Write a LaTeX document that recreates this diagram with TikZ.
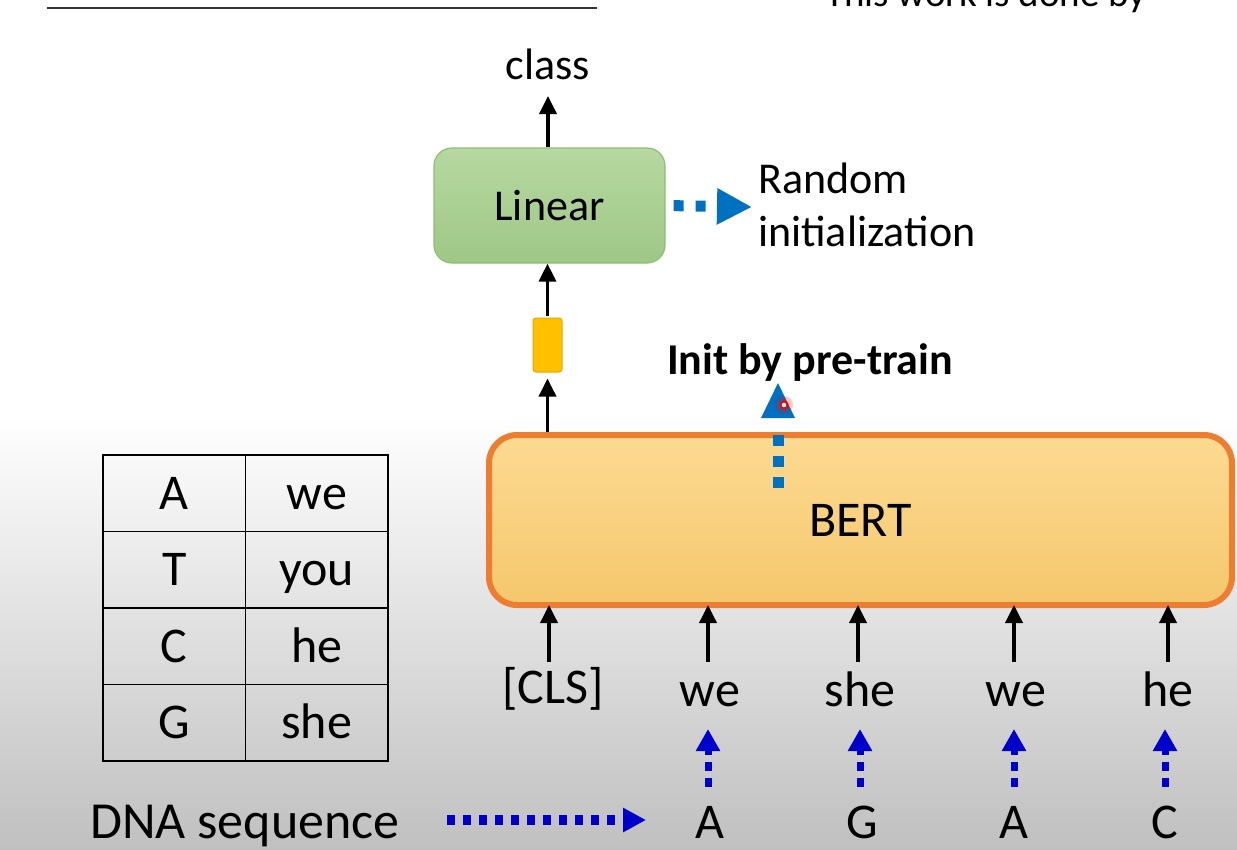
\documentclass[tikz,border=0pt]{standalone}
\usepackage{fontspec}
\setmainfont{Carlito}
\usetikzlibrary{arrows.meta}
\definecolor{bertedge}{RGB}{237,125,49}
\definecolor{berttop}{RGB}{253,218,146}
\definecolor{bertbot}{RGB}{244,199,108}
\definecolor{lintop}{RGB}{182,216,161}
\definecolor{linbot}{RGB}{158,200,134}
\definecolor{linedge}{RGB}{140,190,115}
\definecolor{gold}{RGB}{255,192,0}
\definecolor{goldedge}{RGB}{232,168,0}
\definecolor{pptblue}{RGB}{0,112,192}
\definecolor{dkblue}{RGB}{0,0,204}
\definecolor{bggray}{RGB}{192,192,192}
\newcommand\fbig{\fontsize{50}{60}\selectfont}
\newcommand\fdna{\fontsize{52}{60}\selectfont}
\newcommand\fmid{\fontsize{44}{52}\selectfont}
\begin{document}
\begin{tikzpicture}[x=1pt,y=-1pt,
  blk/.style={line width=3.6pt, -{Triangle[length=18pt 0 0,width=17pt 0 0]}},
  cell/.style={draw, line width=1.8pt, minimum width=142.5pt, minimum height=76.5pt,
    inner sep=0pt, text height=36pt, text depth=4pt, font=\fbig},
  tok/.style={anchor=base, font=\fbig, inner sep=0pt},
  lbl/.style={anchor=base, font=\fmid, inner sep=0pt},
  linbox/.style={rounded corners=18pt, minimum width=231pt, minimum height=115pt,
    top color=lintop, bottom color=linbot, draw=linedge, line width=1.2pt, font=\fmid},
  bertbox/.style={rounded corners=28pt, minimum width=743pt, minimum height=170pt,
    top color=berttop, bottom color=bertbot, draw=bertedge, line width=6pt, font=\fbig},
  vecbox/.style={rounded corners=3pt, minimum width=29pt, minimum height=54pt,
    fill=gold, draw=goldedge, line width=1pt, inner sep=0pt},
  bigdots/.style={pptblue, line width=11pt, dash pattern=on 10pt off 12pt},
  smalldots/.style={dkblue, line width=7pt, dash pattern=on 9pt off 7pt,
    -{Triangle[length=22pt 0 0,width=23pt 0 0]}},
  hdots/.style={dkblue, line width=10pt, dash pattern=on 8pt off 8pt,
    -{Triangle[length=23pt 0 0,width=23pt 0 0]}}
]
\useasboundingbox (0,0) rectangle (1237,849);
% background
\fill[white] (0,0) rectangle (1237,849);
\shade[top color=white, bottom color=bggray] (0,415) rectangle (1237,849);

% top remnants
\coordinate (tl0) at (47,8);
\coordinate (tl1) at (597,8);
\draw[black!80, line width=1.8pt] (tl0) -- (tl1);
\node[anchor=base west, inner sep=0pt, font=\fontsize{39}{45}\selectfont] (credit) at (825,6) {This work is done by};

% Linear / class
\node[linbox] (lin) at (549.5,205.5) {Linear};
\node[lbl] (cls) at (548,79) {class};
\coordinate (clsarr) at (548,96);
\draw[blk] (clsarr |- lin.north) -- (clsarr);

% random init
\node[lbl, anchor=base west] (rand1) at (758,193) {Random};
\node[lbl, anchor=base west] (rand2) at (758,246) {initialization};
\coordinate (rtip) at (752,207);
\draw[bigdots, shorten <=8pt, -{Triangle[length=35pt 0 0,width=34pt 0 0]}] (lin.east) -- (rtip);

% vector
\node[vecbox] (vec) at (547.5,345) {};
\draw[blk, shorten <=2pt] (vec.north) -- (vec.north |- lin.south);

% BERT
\node[bertbox] (bert) at (860.5,520) {BERT};
\draw[blk, shorten >=6pt] (bert.north -| vec) -- (vec.south);

% init by pre-train
\node[lbl, font=\bfseries\fmid] (init) at (810,374) {Init by pre-train};
\coordinate (ib) at (778,488);
\coordinate (it) at (778,433);
\draw[bigdots, dash pattern=on 11pt off 10pt] (ib) -- (it);
\fill[pptblue] (778,383) -- (795,418) -- (761,418) -- cycle;
% laser pointer
\fill[red, opacity=0.22] (784,405) circle (9pt);
\draw[red, line width=2pt, fill=white] (784,405) circle (3.5pt);

% tokens
\node[tok] (t0) at (553,703) {[CLS]};
\node[tok] (t1) at (710,706) {we};
\node[tok] (t2) at (860,706) {she};
\node[tok] (t3) at (1016,706) {we};
\node[tok] (t4) at (1168,706) {he};
\foreach \i/\x in {0/549,1/708,2/858,3/1014,4/1168}{
  \coordinate (a\i) at (\x,662);
  \draw[blk, shorten >=-3pt] (a\i) -- (a\i |- bert.south);
}

% DNA letters
\node[tok] (d1) at (710,838) {A};
\node[tok] (d2) at (862,838) {G};
\node[tok] (d3) at (1014,838) {A};
\node[tok] (d4) at (1165,838) {C};
\foreach \i/\x in {1/708,2/860,3/1014,4/1165}{
  \coordinate (b\i) at (\x,787);
  \coordinate (c\i) at (\x,729);
  \draw[smalldots] (b\i) -- (c\i);
}
\node[tok, anchor=base west, font=\fdna] (dna) at (90,838) {DNA sequence};
\coordinate (h0) at (447,820);
\coordinate (h1) at (646,820);
\draw[hdots] (h0) -- (h1);

% table
\node[cell] (r1a) at (174.25,493.25) {A};
\node[cell] (r1b) at (316.75,493.25) {we};
\node[cell] (r2a) at (174.25,569.75) {T};
\node[cell] (r2b) at (316.75,569.75) {you};
\node[cell] (r3a) at (174.25,646.25) {C};
\node[cell] (r3b) at (316.75,646.25) {he};
\node[cell] (r4a) at (174.25,722.75) {G};
\node[cell] (r4b) at (316.75,722.75) {she};
\end{tikzpicture}
\end{document}
